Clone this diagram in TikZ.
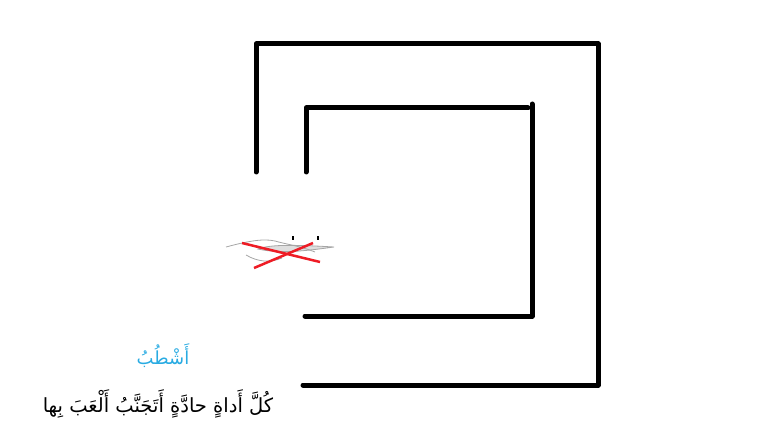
\documentclass[tikz,border=0pt]{standalone}
\usepackage{fontspec}
\newfontfamily\arabicfont[Script=Arabic]{DejaVu Sans}
\TeXXeTstate=1
\definecolor{cyanword}{HTML}{29ABE2}
\definecolor{crossred}{HTML}{EE1C25}
\begin{document}
\begin{tikzpicture}[x=1pt,y=-1pt,
  wall/.style={line width=5pt,line cap=round,line join=round},
  cross/.style={crossred,line width=2.5pt},
  sketch/.style={gray!70,line width=0.8pt}]
\useasboundingbox (0,0) rectangle (775,438);
% outer wall
\coordinate (o1) at (256,172);
\coordinate (o2) at (256,44);
\coordinate (o3) at (598,44);
\coordinate (o4) at (598,385);
\coordinate (o5) at (303,385);
\draw[wall] (o1) -- (o2) -- (o3) -- (o4) -- (o5);
% inner wall
\coordinate (i1) at (306,172);
\coordinate (i2) at (306,108);
\coordinate (i3) at (528,108);
\coordinate (i4) at (532,104);
\coordinate (i5) at (532,316);
\coordinate (i6) at (305,316);
\draw[wall] (i1) -- (i2) -- (i3);
\draw[wall] (i4) -- (i5) -- (i6);
% scissors sketch
\draw[sketch] (226,247) .. controls (245,242) and (262,238) .. (275,241);
\draw[sketch] (246,255) .. controls (258,262) and (270,263) .. (282,258);
\draw[sketch,fill=gray!25] (258,249) .. controls (270,244) and (300,245) .. (334,247) .. controls (305,251) and (280,254) .. (258,249) -- cycle;
\draw[sketch] (275,241) .. controls (285,244) and (300,246) .. (315,252);
% dots
\fill (292,236) rectangle (294,240);
\fill (317,236) rectangle (319,240);
% red cross
\draw[cross] (242,243) -- (320,262);
\draw[cross] (254,268) -- (313,243);
% texts
\node[text=cyanword,font=\arabicfont\fontsize{18}{22}\selectfont,inner sep=0pt] (w1) at (163,356) {\beginR أَشْطُبُ\endR};
\node[font=\arabicfont\fontsize{19.5}{24}\selectfont,inner sep=0pt] (w2) at (158,404) {\beginR كُلَّ أَداةٍ حادَّةٍ أَتَجَنَّبُ أَلْعَبَ بِها\endR};
\end{tikzpicture}
\end{document}
